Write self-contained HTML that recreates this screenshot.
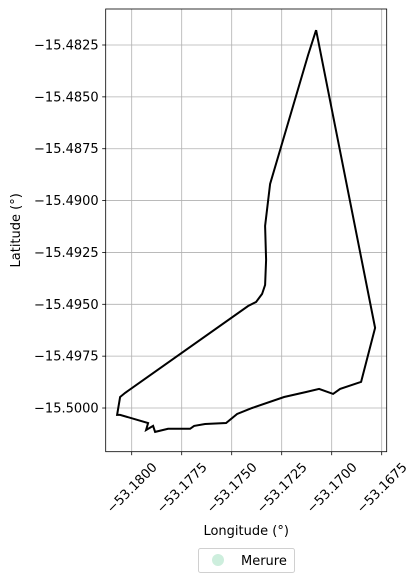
<!DOCTYPE html>
<html><head><meta charset="utf-8"><style>
body{margin:0;background:#fff;}
svg text{font-family:"DejaVu Sans","Liberation Sans",sans-serif;fill:#000;}
</style></head><body>
<svg id="chart" width="418" height="582" xmlns="http://www.w3.org/2000/svg"></svg>
<script>
const xTicks=[-53.18,-53.1775,-53.175,-53.1725,-53.17,-53.1675];
const xTickLabels=["\u221253.1800","\u221253.1775","\u221253.1750","\u221253.1725","\u221253.1700","\u221253.1675"];
const yTicks=[-15.4825,-15.485,-15.4875,-15.49,-15.4925,-15.495,-15.4975,-15.5];
const yTickLabels=["\u221215.4825","\u221215.4850","\u221215.4875","\u221215.4900","\u221215.4925","\u221215.4950","\u221215.4975","\u221215.5000"];
const lons=[-53.17078,-53.17118,-53.17308,-53.17333,-53.17328,-53.17333,-53.17348,-53.17378,-53.17418,-53.18033,-53.18058,-53.18073,-53.18058,-53.17918,-53.17928,-53.17893,-53.17883,-53.17818,-53.17708,-53.17688,-53.17633,-53.17528,-53.17473,-53.17398,-53.17238,-53.17128,-53.17063,-53.16993,-53.16958,-53.16853,-53.16783,-53.17078];
const lats=[-15.48178,-15.48298,-15.4892,-15.49122,-15.49286,-15.49407,-15.4945,-15.49489,-15.49508,-15.49927,-15.49947,-15.50033,-15.50033,-15.50072,-15.50106,-15.50086,-15.50115,-15.501,-15.501,-15.50086,-15.50077,-15.50072,-15.50029,-15.5,-15.49947,-15.49923,-15.49908,-15.49932,-15.49908,-15.49874,-15.49614,-15.48178];
const NS="http://www.w3.org/2000/svg";
const svg=document.getElementById('chart');
const L=105.7,R=386.7,T=9,B=451.7;
function xs(v){return 131.7+(v+53.18)*20000;}
function ys(v){return 45+(v+15.4825)/-0.0025*51.86;}
function mk(t,a){const e=document.createElementNS(NS,t);for(const k in a)e.setAttribute(k,a[k]);svg.appendChild(e);return e;}
xTicks.forEach((v,i)=>{const x=xs(v);
 const g=mk('line',{x1:x,x2:x,y1:T,y2:B,stroke:'#b0b0b0','stroke-width':0.8});
 
 
 mk('line',{x1:x,x2:x,y1:B,y2:B+3.5,stroke:'#000','stroke-width':0.8});
 const cy=B+36;
 const t=mk('text',{x:x,y:cy+4.5,'font-size':13,'text-anchor':'middle',transform:`rotate(-45 ${x} ${cy})`});
 t.textContent=xTickLabels[i];
 
 
});
yTicks.forEach((v,i)=>{const y=ys(v);
 const g=mk('line',{x1:L,x2:R,y1:y,y2:y,stroke:'#b0b0b0','stroke-width':0.8});
 
 
 mk('line',{x1:L-3.5,x2:L,y1:y,y2:y,stroke:'#000','stroke-width':0.8});
 const t=mk('text',{x:L-7,y:y+4.5,'font-size':13,'text-anchor':'end'});
 t.textContent=yTickLabels[i];
 
 
});
const pts=lons.map((v,i)=>xs(v).toFixed(1)+','+ys(lats[i]).toFixed(1)).join(' ');
const p=mk('polyline',{points:pts,fill:'none',stroke:'#000','stroke-width':2,'stroke-linejoin':'miter'});


const f=mk('rect',{x:L,y:T,width:R-L,height:B-T,fill:'none',stroke:'#000','stroke-width':0.8});


const xt=mk('text',{x:(L+R)/2,y:535,'font-size':13,'text-anchor':'middle'});xt.textContent='Longitude (\u00b0)';


const yt=mk('text',{x:20,y:(T+B)/2,'font-size':13,'text-anchor':'middle',transform:`rotate(-90 20 ${(T+B)/2})`});yt.textContent='Latitude (\u00b0)';


const lb=mk('rect',{x:198.5,y:548.5,width:96,height:24,rx:2,fill:'#fff',stroke:'#d0d0d0','stroke-width':1});


const lc=mk('circle',{cx:218,cy:560,r:6,fill:'#cdeedd'});


const lt=mk('text',{x:241,y:565,'font-size':13});lt.textContent='Merure';


</script>
</body></html>
